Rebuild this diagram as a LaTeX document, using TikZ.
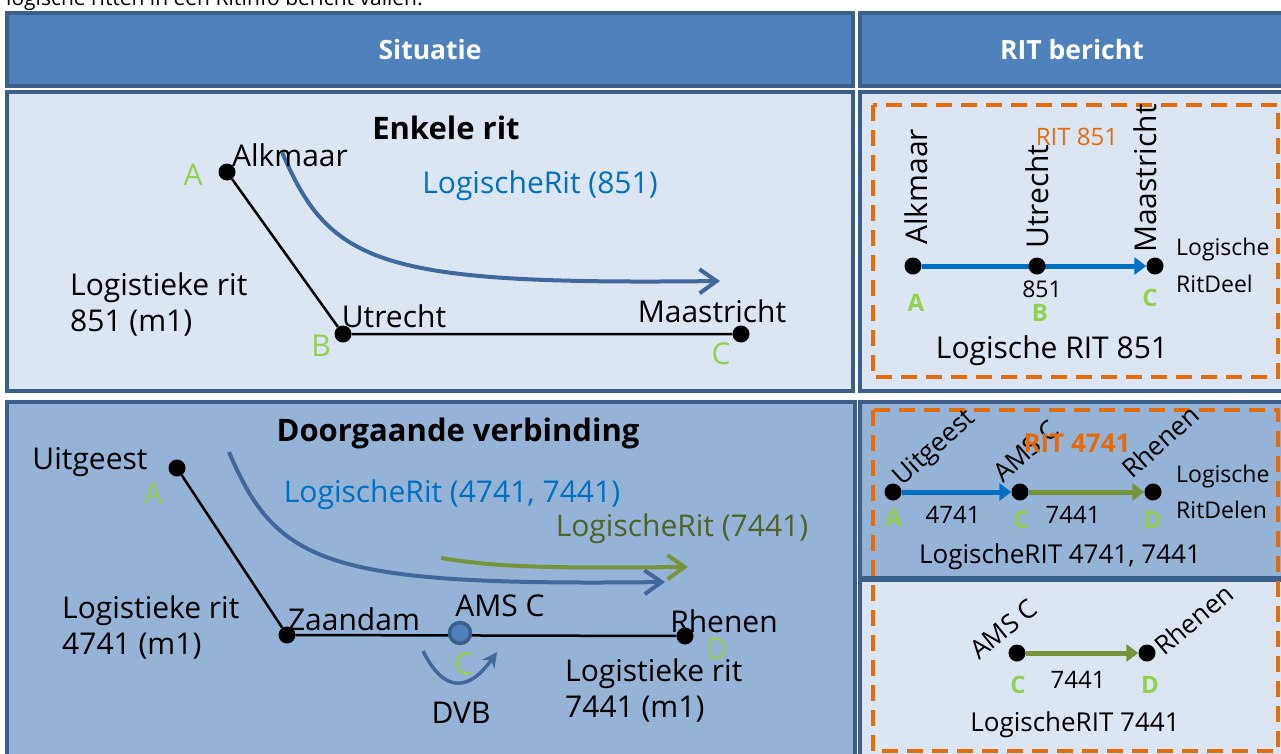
\documentclass[tikz,border=0pt]{standalone}
\usepackage{fontspec}
\setmainfont{Open Sans}
\usetikzlibrary{arrows.meta}
\definecolor{hdrfill}{HTML}{4F81BD}
\definecolor{frame}{HTML}{3A5F8B}
\definecolor{light}{HTML}{DCE6F2}
\definecolor{mid}{HTML}{95B3D7}
\definecolor{curve}{HTML}{41689C}
\definecolor{ritblue}{HTML}{0070C0}
\definecolor{lgreen}{HTML}{92D050}
\definecolor{olive}{HTML}{77933C}
\definecolor{olivetext}{HTML}{4F6228}
\definecolor{orng}{HTML}{E46C0A}
\pgfdeclarelayer{bg}
\pgfdeclarelayer{midl}
\pgfsetlayers{bg,midl,main}
\tikzset{
 box/.style={draw=frame, line width=4pt},
 dashbox/.style={draw=orng, line width=4.5pt, dash pattern=on 16pt off 9pt},
 t30/.style={font=\fontsize{30}{35}\selectfont, inner sep=0pt},
 t26/.style={font=\fontsize{26}{31}\selectfont, inner sep=0pt},
 t24/.style={font=\fontsize{24}{28}\selectfont, inner sep=0pt},
 t23/.style={font=\fontsize{23}{27}\selectfont, inner sep=0pt},
 ttl/.style={font=\bfseries\fontsize{31}{36}\selectfont, inner sep=0pt},
 hdr/.style={font=\bfseries\fontsize{26.5}{31}\selectfont, text=white, inner sep=0pt},
 gl/.style={text=lgreen, font=\fontsize{30}{35}\selectfont, inner sep=0pt},
 gb/.style={text=lgreen, font=\bfseries\fontsize{24}{28}\selectfont, inner sep=0pt},
 dot/.style={circle, fill=black, minimum size=17pt, inner sep=0pt},
 track/.style={line width=2.5pt, draw=black},
 flow/.style={draw=curve, line width=4pt, -{Straight Barb[length=17pt,width=24pt]}},
 gflow/.style={draw=olive, line width=4pt, -{Straight Barb[length=17pt,width=24pt]}},
 dvb/.style={draw=curve, line width=3.5pt, -{Stealth[length=15pt,width=15pt]}},
 barrow/.style={draw=ritblue, line width=5pt, -{Triangle[length=12pt,width=17pt]}},
 garrow/.style={draw=olive, line width=5pt, -{Triangle[length=12pt,width=17pt]}},
}
\begin{document}
\begin{tikzpicture}[x=1pt,y=-1pt]
\useasboundingbox (0,0) rectangle (1281,753);
\clip (0,0) rectangle (1281,753);

\node[font=\fontsize{21}{25}\selectfont, anchor=base west, inner sep=0pt] (intro) at (6,5) {logische ritten in een RitInfo bericht vallen.};

\begin{pgfonlayer}{bg}
\fill[white] (0,0) rectangle (1281,753);
\filldraw[box, fill=hdrfill] (7,13) rectangle (853,86);
\filldraw[box, fill=hdrfill] (860,13) rectangle (1295,86);
\filldraw[box, fill=light] (7,92) rectangle (853,391);
\filldraw[box, fill=light] (860,92) rectangle (1295,391);
\filldraw[box, fill=mid] (7,402) rectangle (855,770);
\filldraw[box, fill=mid] (860,402) rectangle (1295,578);
\filldraw[box, fill=light] (860,580) rectangle (1295,770);
\draw[dashbox] (873,105) rectangle (1278,377);
\draw[dashbox] (873,410) rectangle (1278,751);
\end{pgfonlayer}

\node[hdr] (h1) at (430,50) {Situatie};
\node[hdr] (h2) at (1072,50) {RIT bericht};

% ---------- Panel 1: Enkele rit
\node[ttl] (t1) at (446,128) {Enkele rit};
\node[dot] (a1) at (227,172) {};
\node[dot] (b1) at (343,334) {};
\node[dot] (c1) at (741,334) {};
\node[t30] (alk) at (290,155) {Alkmaar};
\node[gl] (ga1) at (193,175) {A};
\node[t30] (utr) at (394,316) {Utrecht};
\node[gl] (gb1) at (321,346) {B};
\node[t30] (maa) at (712,311) {Maastricht};
\node[gl] (gc1) at (721,354) {C};
\node[t30, anchor=west] (lr1a) at (70,288) {Logistieke rit};
\node[t30, anchor=west] (lr1b) at (70,323) {851 (m1)};
\node[t30, text=ritblue] (lg1) at (540,186) {LogischeRit (851)};
\coordinate (f1s) at (282,152);
\coordinate (f1e) at (720,281);
\begin{pgfonlayer}{midl}
\draw[track] (a1) -- (b1) -- (c1);
\draw[flow] (f1s) .. controls (330,265) and (380,285) .. (f1e);
\end{pgfonlayer}

% ---------- Panel 2: Doorgaande verbinding
\node[ttl] (t2) at (458,433) {Doorgaande verbinding};
\node[dot] (a2) at (177,468) {};
\node[dot] (z2) at (287,635) {};
\node[circle, fill=hdrfill, draw=frame, line width=3.5pt, minimum size=21pt, inner sep=0pt] (ams) at (460,633) {};
\node[dot] (d2) at (685,636) {};
\node[t30] (uit) at (90,462) {Uitgeest};
\node[gl] (ga2) at (153,494) {A};
\node[t30] (zaa) at (354,619) {Zaandam};
\node[t30] (amsl) at (500,606) {AMS C};
\node[gl] (gc2) at (464,664) {C};
\node[t30] (rhe) at (724,621) {Rhenen};
\node[gl] (gd2) at (717,649) {D};
\node[t30, anchor=west] (lr2a) at (62,611) {Logistieke rit};
\node[t30, anchor=west] (lr2b) at (62,646) {4741 (m1)};
\node[t30, anchor=west] (lr3a) at (565,674) {Logistieke rit};
\node[t30, anchor=west] (lr3b) at (565,709) {7441 (m1)};
\node[t30] (dvbl) at (461,713) {DVB};
\node[t30, text=ritblue] (lg2) at (452,495) {LogischeRit (4741, 7441)};
\node[t30, text=olivetext] (lg3) at (682,529) {LogischeRit (7441)};
\coordinate (f2s) at (229,452);
\coordinate (f2e) at (665,582);
\coordinate (f3s) at (441,558);
\coordinate (f3e) at (688,567);
\coordinate (dvs) at (423,651);
\coordinate (dve) at (497,652);
\begin{pgfonlayer}{midl}
\draw[track] (a2) -- (z2) -- (d2);
\draw[flow] (f2s) .. controls (277,565) and (327,586) .. (f2e);
\draw[gflow] (f3s) .. controls (500,568) and (560,568) .. (f3e);
\draw[dvb] (dvs) .. controls (445,695) and (470,690) .. (dve);
\end{pgfonlayer}

% ---------- Right panel 1
\node[dot] (ra) at (913,266) {};
\node[dot] (rb) at (1037,266) {};
\node[dot] (rc) at (1155,266) {};
\node[t30, rotate=90, anchor=west] (ralk) at (916,245) {Alkmaar};
\node[t30, rotate=90, anchor=west] (rutr) at (1037,249) {Utrecht};
\node[t30, rotate=90, anchor=west] (rmaa) at (1145,253) {Maastricht};
\node[t24, text=orng] (rit851) at (1077,137) {RIT 851};
\node[t23] (n851) at (1042,289) {851};
\node[gb] (rga) at (916,303) {A};
\node[gb] (rgb) at (1040,313) {B};
\node[gb] (rgc) at (1150,298) {C};
\node[t23, anchor=west] (rld1) at (1176,250) {Logische};
\node[t23, anchor=west] (rld2) at (1176,284) {RitDeel};
\node[t30] (rl851) at (1052,351) {Logische RIT 851};
\begin{pgfonlayer}{midl}
\draw[barrow] (ra) -- (rc);
\end{pgfonlayer}

% ---------- Right panel 2 top
\node[dot] (sa) at (893,492) {};
\node[dot] (sc) at (1020,492) {};
\node[dot] (sd) at (1153,492) {};
\node[t26, rotate=42, anchor=base west] (suit) at (902,487) {Uitgeest};
\node[t26, rotate=42, anchor=base west] (sams) at (1003,484) {AMS C};
\node[t26, rotate=42, anchor=base west] (srhe) at (1132,480) {Rhenen};
\node[text=orng, font=\bfseries\fontsize{26}{30}\selectfont, inner sep=0pt] (rit4741) at (1077,443) {RIT 4741};
\node[t24] (n4741) at (953,515) {4741};
\node[t24] (n7441) at (1073,515) {7441};
\node[gb] (sga) at (894,518) {A};
\node[gb] (sgc) at (1021,520) {C};
\node[gb] (sgd) at (1153,520) {D};
\node[t23, anchor=west] (sld1) at (1176,477) {Logische};
\node[t23, anchor=west] (sld2) at (1176,510) {RitDelen};
\node[t26] (sl) at (1060,557) {LogischeRIT 4741, 7441};
\begin{pgfonlayer}{midl}
\draw[barrow] (sa) -- (sc);
\draw[garrow] (sc) -- (sd);
\end{pgfonlayer}

% ---------- Right panel 2 bottom
\node[dot] (uc) at (1017,653) {};
\node[dot] (ud) at (1147,653) {};
\node[t26, rotate=39, anchor=base west] (uams) at (979,661) {AMS C};
\node[t26, rotate=40, anchor=base west] (urhe) at (1164,657) {Rhenen};
\node[gb] (ugc) at (1018,685) {C};
\node[t24] (u7441) at (1078,680) {7441};
\node[gb] (ugd) at (1150,685) {D};
\node[t26] (ul) at (1075,725) {LogischeRIT 7441};
\begin{pgfonlayer}{midl}
\draw[garrow] (uc) -- (ud);
\end{pgfonlayer}
\end{tikzpicture}
\end{document}
